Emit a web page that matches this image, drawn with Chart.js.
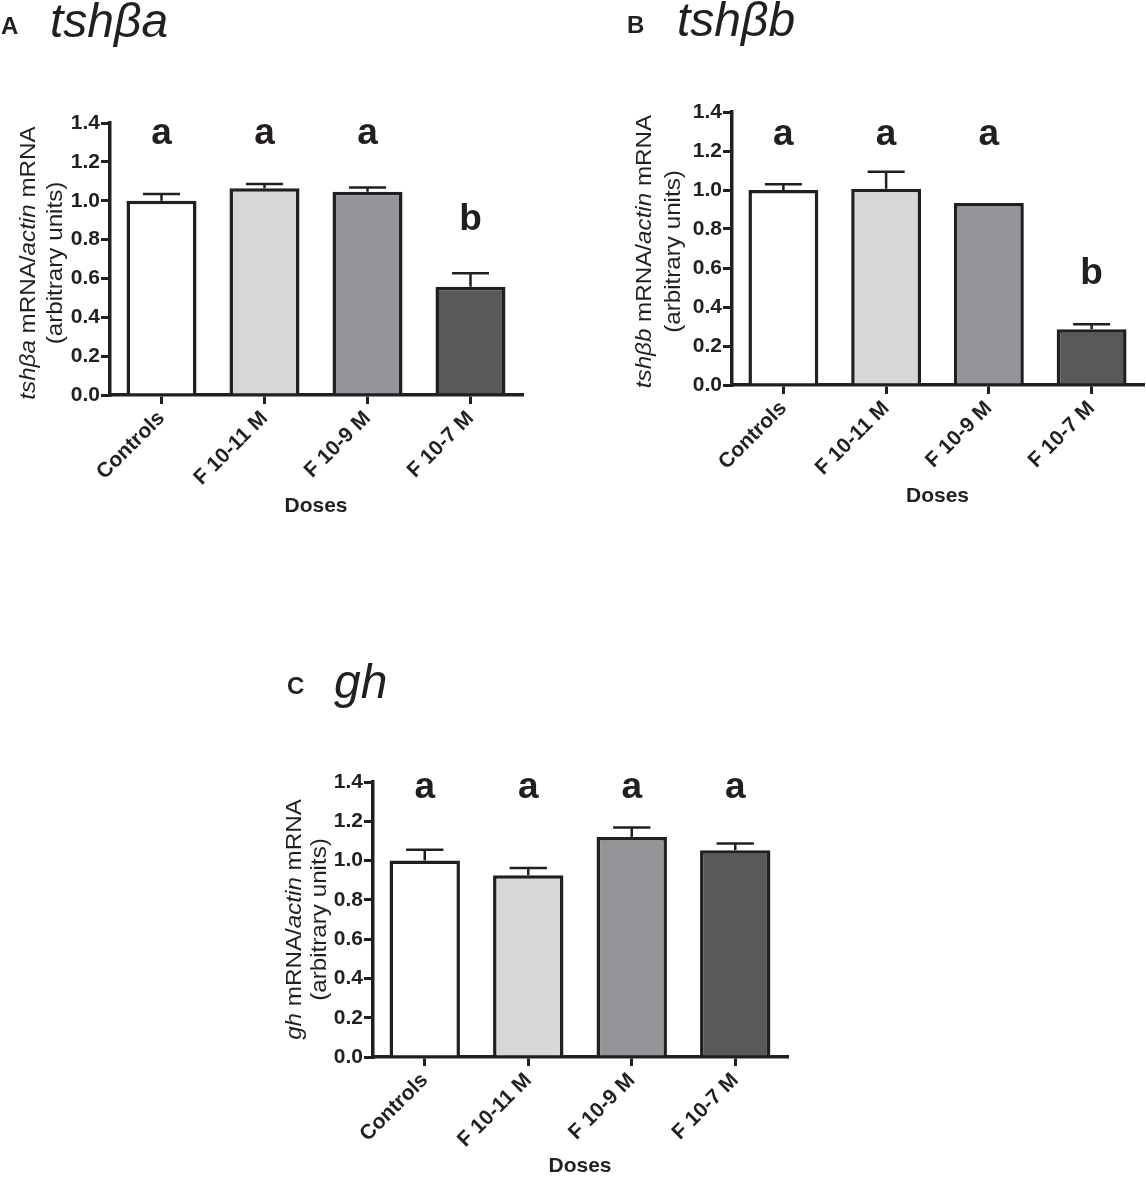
<!DOCTYPE html>
<html>
<head>
<meta charset="utf-8">
<script src="https://cdn.jsdelivr.net/npm/chart.js@4.4.1/dist/chart.umd.min.js"></script>
<style>
  html, body { margin: 0; padding: 0; background: #ffffff; }
  body { width: 1146px; height: 1179px; position: relative; overflow: hidden; }
  canvas { position: absolute; }
</style>
</head>
<body>
<canvas id="chartA" width="560" height="530" style="left:0px;top:0px;width:560px;height:530px"></canvas>
<canvas id="chartB" width="546" height="530" style="left:600px;top:0px;width:546px;height:530px"></canvas>
<canvas id="chartC" width="530" height="531" style="left:270px;top:648px;width:530px;height:531px"></canvas>
<script>
// ---------- DATA ----------
const categories = ['Controls', 'F 10-11 M', 'F 10-9 M', 'F 10-7 M'];
const yTickValues = [0.0, 0.2, 0.4, 0.6, 0.8, 1.0, 1.2, 1.4];

const tshbaMeans = [1.00, 1.064, 1.046, 0.557];
const tshbaSEM = [0.035, 0.022, 0.022, 0.070];
const tshbaLetters = ['a', 'a', 'a', 'b'];
const tshbaLetterLevel = [1.29, 1.29, 1.29, 0.85];

const tshbbMeans = [1.00, 1.006, 0.933, 0.286];
const tshbbSEM = [0.030, 0.087, 0.000, 0.026];
const tshbbLetters = ['a', 'a', 'a', 'b'];
const tshbbLetterLevel = [1.23, 1.23, 1.23, 0.52];

const ghMeans = [1.00, 0.925, 1.120, 1.052];
const ghSEM = [0.055, 0.037, 0.048, 0.035];
const ghLetters = ['a', 'a', 'a', 'a'];
const ghLetterLevel = [1.32, 1.32, 1.32, 1.32];

const barColors = ['#ffffff', '#d6d7d9', '#939598', '#58595b'];

// ---------- STYLE ----------
const INK = '#231f20';
const FAMILY = '"Liberation Sans", Arial, Helvetica, sans-serif';

// error bars (upper only)
const errorBarPlugin = {
  id: 'errorBars',
  afterDatasetsDraw(chart, args, opts) {
    const meta = chart.getDatasetMeta(0);
    const yScale = chart.scales.y;
    const ctx = chart.ctx;
    ctx.save();
    ctx.strokeStyle = INK;
    ctx.lineWidth = 2.5;
    meta.data.forEach((bar, i) => {
      const err = opts.errors[i];
      if (!err) return;
      const yTop = yScale.getPixelForValue(opts.means[i] + err);
      const half = bar.width * 0.265;
      ctx.beginPath();
      ctx.moveTo(bar.x, bar.y);
      ctx.lineTo(bar.x, yTop);
      ctx.moveTo(bar.x - half, yTop);
      ctx.lineTo(bar.x + half, yTop);
      ctx.stroke();
    });
    ctx.restore();
  }
};

// significance letters
const letterPlugin = {
  id: 'sigLetters',
  afterDatasetsDraw(chart, args, opts) {
    const meta = chart.getDatasetMeta(0);
    const yScale = chart.scales.y;
    const ctx = chart.ctx;
    ctx.save();
    ctx.fillStyle = INK;
    ctx.font = 'bold 37px ' + FAMILY;
    ctx.textAlign = 'center';
    ctx.textBaseline = 'alphabetic';
    meta.data.forEach((bar, i) => {
      ctx.fillText(opts.letters[i], bar.x, yScale.getPixelForValue(opts.levels[i]));
    });
    ctx.restore();
  }
};

// rotated two-line y title with mixed italics
const yTitlePlugin = {
  id: 'yTitle',
  afterDraw(chart, args, opts) {
    const ctx = chart.ctx;
    const area = chart.chartArea;
    const cy = (area.top + area.bottom) / 2 + (opts.dy || 0);
    const size = 22;
    opts.lines.forEach((segs, li) => {
      const cx = opts.xs[li];
      ctx.save();
      ctx.translate(cx, cy);
      ctx.rotate(-Math.PI / 2);
      ctx.scale(1.1, 1);
      ctx.fillStyle = INK;
      ctx.textBaseline = 'middle';
      ctx.textAlign = 'left';
      let total = 0;
      segs.forEach(s => {
        ctx.font = (s.i ? 'italic ' : '') + size + 'px ' + FAMILY;
        total += ctx.measureText(s.t).width;
      });
      let x = -total / 2;
      segs.forEach(s => {
        ctx.font = (s.i ? 'italic ' : '') + size + 'px ' + FAMILY;
        ctx.fillText(s.t, x, 0);
        x += ctx.measureText(s.t).width;
      });
      ctx.restore();
    });
  }
};

// panel letter + gene name
const panelTitlePlugin = {
  id: 'panelTitle',
  afterDraw(chart, args, opts) {
    const ctx = chart.ctx;
    ctx.save();
    ctx.fillStyle = INK;
    ctx.textBaseline = 'alphabetic';
    ctx.textAlign = 'left';
    ctx.font = 'bold 24px ' + FAMILY;
    ctx.fillText(opts.letter, opts.lx, opts.ly);
    ctx.font = 'italic 48px ' + FAMILY;
    ctx.fillText(opts.name, opts.nx, opts.ny);
    ctx.restore();
  }
};

function makeChart(id, cfg) {
  const ctx = document.getElementById(id);
  return new Chart(ctx, {
    type: 'bar',
    data: {
      labels: categories,
      datasets: [{
        data: cfg.means,
        backgroundColor: barColors,
        borderColor: INK,
        borderWidth: 3.5,
        borderSkipped: 'start',
        barPercentage: 0.68,
        categoryPercentage: 1.0
      }]
    },
    options: {
      responsive: false,
      animation: false,
      devicePixelRatio: 1,
      layout: { padding: cfg.padding },
      plugins: {
        legend: { display: false },
        tooltip: { enabled: false },
        errorBars: { means: cfg.means, errors: cfg.errors },
        sigLetters: { letters: cfg.letters, levels: cfg.levels },
        yTitle: { lines: cfg.yTitle, xs: cfg.yTitleX, dy: cfg.yTitleDy },
        panelTitle: cfg.panel
      },
      scales: {
        x: {
          offset: true,
          grid: {
            display: true, drawOnChartArea: false, drawTicks: true, offset: false,
            tickLength: 9, color: INK, lineWidth: 3, tickWidth: 3, tickColor: INK
          },
          border: { display: true, color: INK, width: 3.5 },
          ticks: {
            autoSkip: false, minRotation: 45, maxRotation: 45, padding: 2,
            color: INK, font: { family: FAMILY, size: 21, weight: 'bold' }
          },
          title: {
            display: true, text: 'Doses', color: INK, padding: 0,
            font: { family: FAMILY, size: 21, weight: 'bold', lineHeight: 1.2 }
          },
          afterFit(scale) { scale.height = cfg.xHeight; }
        },
        y: {
          min: yTickValues[0],
          max: yTickValues[yTickValues.length - 1],
          afterBuildTicks(scale) { scale.ticks = yTickValues.map(v => ({ value: v })); },
          grid: {
            display: true, drawOnChartArea: false, drawTicks: true,
            tickLength: 9, color: INK, lineWidth: 3, tickWidth: 3, tickColor: INK
          },
          border: { display: true, color: INK, width: 3.5 },
          ticks: {
            padding: 1, color: INK,
            font: { family: FAMILY, size: 21, weight: 'bold' },
            callback: v => Number(v).toFixed(1)
          },
          afterFit(scale) { scale.width = cfg.yWidth; }
        }
      }
    },
    plugins: [errorBarPlugin, letterPlugin, yTitlePlugin, panelTitlePlugin]
  });
}

makeChart('chartA', {
  means: tshbaMeans, errors: tshbaSEM, letters: tshbaLetters, levels: tshbaLetterLevel,
  padding: { left: 0, top: 123, right: 38, bottom: 11 },
  xHeight: 124, yWidth: 110,
  yTitle: [
    [{ t: 'tshβa', i: true }, { t: ' mRNA/' }, { t: 'actin', i: true }, { t: ' mRNA' }],
    [{ t: '(arbitrary units)' }]
  ],
  yTitleX: [29, 56], yTitleDy: 4,
  panel: { letter: 'A', lx: 1, ly: 34, name: 'tshβa', nx: 50, ny: 37 }
});

makeChart('chartB', {
  means: tshbbMeans, errors: tshbbSEM, letters: tshbbLetters, levels: tshbbLetterLevel,
  padding: { left: 0, top: 112, right: 3, bottom: 21 },
  xHeight: 124, yWidth: 132,
  yTitle: [
    [{ t: 'tshβb', i: true }, { t: ' mRNA/' }, { t: 'actin', i: true }, { t: ' mRNA' }],
    [{ t: '(arbitrary units)' }]
  ],
  yTitleX: [45, 74], yTitleDy: 3,
  panel: { letter: 'B', lx: 27, ly: 33, name: 'tshβb', nx: 77, ny: 36 }
});

makeChart('chartC', {
  means: ghMeans, errors: ghSEM, letters: ghLetters, levels: ghLetterLevel,
  padding: { left: 0, top: 134, right: 13, bottom: 0 },
  xHeight: 122, yWidth: 103,
  yTitle: [
    [{ t: 'gh', i: true }, { t: ' mRNA/' }, { t: 'actin', i: true }, { t: ' mRNA' }],
    [{ t: '(arbitrary units)' }]
  ],
  yTitleX: [25, 50], yTitleDy: 0,
  panel: { letter: 'C', lx: 17, ly: 46, name: 'gh', nx: 64, ny: 50 }
});
</script>
</body>
</html>
